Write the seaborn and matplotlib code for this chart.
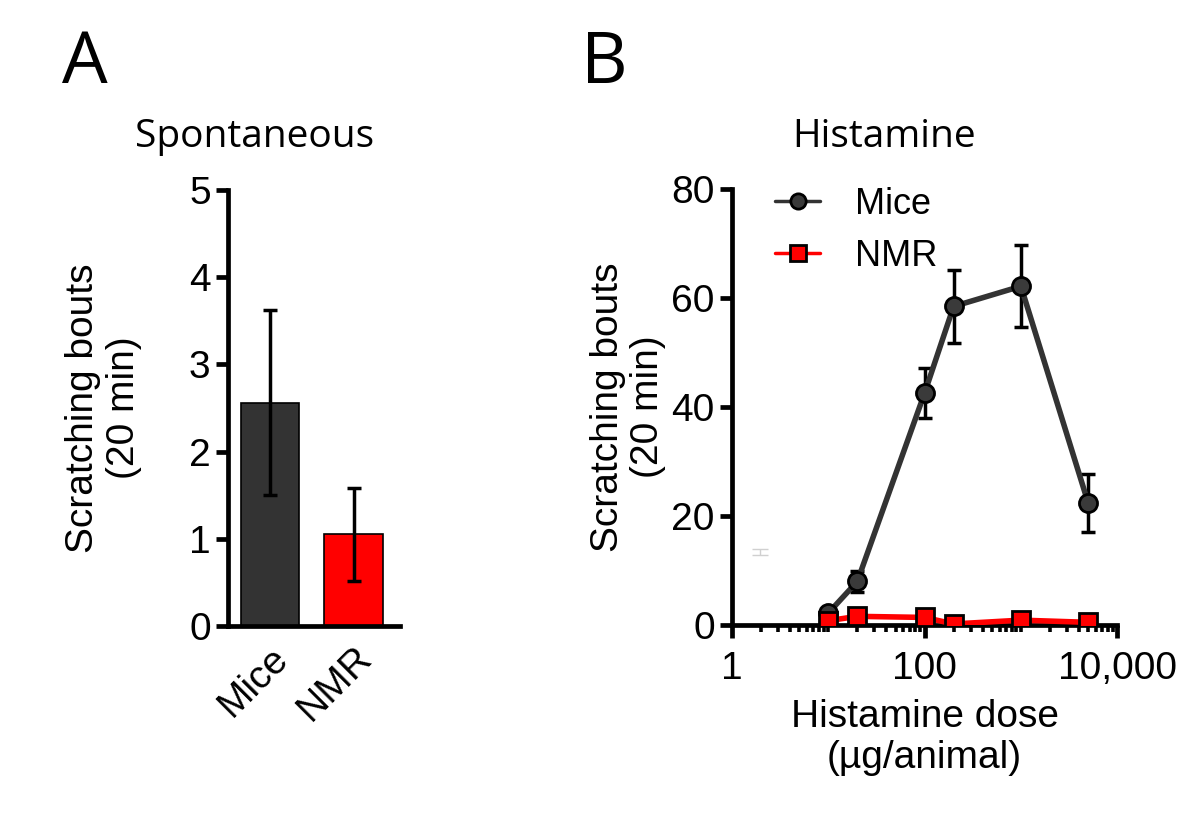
import numpy as np
import pandas as pd
import matplotlib
matplotlib.use("Agg")
import matplotlib.pyplot as plt
import seaborn as sns
from matplotlib.ticker import FixedLocator, NullFormatter

# ------------------------------------------
# Data
# ------------------------------------------

# Panel A: spontaneous scratching
groups = ["Mice", "NMR"]
spont_mean = [2.56, 1.05]
spont_err = [1.06, 0.53]
bar_colors = ["#333333", "#ff0000"]

# Panel B: histamine dose response
doses = [10, 20, 100, 200, 1000, 5000]
mice_mean = [2.2, 8.0, 42.6, 58.5, 62.2, 22.4]
mice_err = [1.0, 2.0, 4.6, 6.7, 7.5, 5.4]
nmr_mean = [0.8, 1.6, 1.4, 0.2, 0.9, 0.5]
nmr_err = [0.4, 0.5, 0.5, 0.3, 0.4, 0.3]

x_ticks = [1, 100, 10000]
x_ticklabels = ["1", "100", "10,000"]

# ------------------------------------------
# Style
# ------------------------------------------

sns.set_theme(style="ticks")
plt.rcParams["font.family"] = ["Liberation Sans", "DejaVu Sans"]
plt.rcParams["text.color"] = "black"
plt.rcParams["axes.labelcolor"] = "black"
plt.rcParams["axes.linewidth"] = 3.4
plt.rcParams["xtick.major.width"] = 3.4
plt.rcParams["ytick.major.width"] = 3.4
plt.rcParams["xtick.minor.width"] = 2.6
plt.rcParams["xtick.major.size"] = 9
plt.rcParams["ytick.major.size"] = 9
plt.rcParams["xtick.minor.size"] = 5
plt.rcParams["xtick.labelsize"] = 28
plt.rcParams["ytick.labelsize"] = 28
plt.rcParams["axes.labelsize"] = 28
plt.rcParams["xtick.color"] = "black"
plt.rcParams["ytick.color"] = "black"
plt.rcParams["axes.edgecolor"] = "black"

fig = plt.figure(figsize=(12, 8.16), dpi=100)

# ------------------------------------------
# Panel A: bars
# ------------------------------------------

axA = fig.add_axes([0.19, 0.233, 0.143, 0.534])
dfA = pd.DataFrame({"group": groups, "mean": spont_mean})
sns.barplot(data=dfA, x="group", y="mean", hue="group", palette=bar_colors,
            saturation=1, width=0.7, edgecolor="black", linewidth=1.2,
            legend=False, ax=axA)
axA.errorbar(range(len(groups)), spont_mean, yerr=spont_err, fmt="none",
             ecolor="black", elinewidth=2.5, capsize=5, capthick=2.5)
axA.set_ylim(0, 5)
axA.set_xlim(-0.5, 1.55)
axA.set_yticks([0, 1, 2, 3, 4, 5])
axA.set_xlabel("")
axA.set_ylabel("Scratching bouts\n(20 min)", labelpad=34, linespacing=1.15)
plt.setp(axA.get_xticklabels(), rotation=45, ha="right", rotation_mode="anchor")
axA.tick_params(axis="x", length=0, pad=10)
sns.despine(ax=axA)

# ------------------------------------------
# Panel B: dose response
# ------------------------------------------

axB = fig.add_axes([0.61, 0.234, 0.321, 0.534])
dfB = pd.DataFrame({
    "dose": doses * 2,
    "bouts": mice_mean + nmr_mean,
    "species": ["Mice"] * len(doses) + ["NMR"] * len(doses),
})

axB.errorbar(doses, mice_mean, yerr=mice_err, fmt="none", ecolor="black",
             elinewidth=2.5, capsize=5, capthick=2.5, zorder=2)
axB.errorbar(doses, nmr_mean, yerr=nmr_err, fmt="none", ecolor="black",
             elinewidth=2.5, capsize=5, capthick=2.5, zorder=2)
sns.lineplot(data=dfB, x="dose", y="bouts", hue="species", style="species",
             palette={"Mice": "#333333", "NMR": "#ff0000"},
             markers={"Mice": "o", "NMR": "s"}, dashes=False,
             linewidth=4, markersize=13, markeredgecolor="black",
             markeredgewidth=2, ax=axB, zorder=3)
# recolour marker faces
for line in axB.get_lines():
    if line.get_marker() == "o":
        line.set_markerfacecolor("#3a3a3a")
    elif line.get_marker() == "s":
        line.set_markerfacecolor("#ff0000")

# faint stray error bar visible in the original figure
axB.errorbar([1.95], [13.4], yerr=[0.6], fmt="none", ecolor="#d0d0d0",
             elinewidth=1, capsize=6, capthick=1)

axB.set_xscale("log")
axB.set_xlim(1, 10000)
axB.set_ylim(0, 80)
axB.set_yticks([0, 20, 40, 60, 80])
axB.xaxis.set_major_locator(FixedLocator(x_ticks))
axB.set_xticklabels(x_ticklabels)
minor = [m * 10 ** e for e in range(0, 4) for m in range(2, 11)]
axB.xaxis.set_minor_locator(FixedLocator([v for v in minor if v not in x_ticks]))
axB.xaxis.set_minor_formatter(NullFormatter())
axB.tick_params(axis="x", which="major", pad=10)
axB.set_xlabel("Histamine dose\n(\u00b5g/animal)", labelpad=8, linespacing=1.2)
axB.set_ylabel("Scratching bouts\n(20 min)", labelpad=4, linespacing=1.15)
sns.despine(ax=axB)

leg = axB.legend(loc="upper left", bbox_to_anchor=(0.028, 1.08), frameon=False,
                 fontsize=26, handlelength=1.25, handletextpad=0.95,
                 labelspacing=0.47)
for h in leg.legend_handles:
    h.set_linewidth(2.5)
    h.set_markersize(11)

# ------------------------------------------
# Panel letters and titles
# ------------------------------------------

fig.text(0.052, 0.898, "A", fontsize=52, family="Open Sans", va="baseline")
fig.text(0.484, 0.898, "B", fontsize=52, family="Open Sans", va="baseline")
fig.text(0.212, 0.82, "Spontaneous", fontsize=28, family="Open Sans",
         ha="center", va="baseline")
fig.text(0.737, 0.82, "Histamine", fontsize=28, family="Open Sans",
         ha="center", va="baseline")

fig.savefig("out.png", dpi=100)
